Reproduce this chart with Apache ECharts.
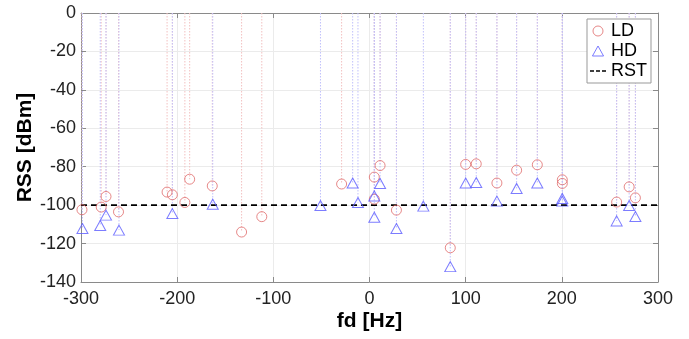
<!DOCTYPE html>
<html>
<head>
<meta charset="utf-8">
<script src="https://cdn.jsdelivr.net/npm/echarts@6/dist/echarts.min.js"></script>
<style>
  html, body { margin: 0; padding: 0; background: #fff; }
  #chart { width: 689px; height: 339px; }
</style>
</head>
<body>
<div id="chart"></div>
<script>
// LD (red circles) and HD (blue triangles), Doppler fd in Hz, RSS in dBm
const ldFd = [-299, -279, -274, -261, -210.5, -205, -192, -187, -163.5, -133, -112, -29, 5, 5, 11, 28, 84, 100, 111, 132.5, 153, 174.5, 200.5, 200.5, 257, 270, 276.5];
const ldRss = [-102.4, -101, -95.5, -103.5, -93.2, -94.6, -98.6, -86.5, -90, -114, -106, -89, -85.4, -96.9, -79.4, -102.6, -122.2, -78.8, -78.5, -88.5, -81.8, -79, -86.8, -88.7, -98.4, -90.5, -96.2];
const hdFd = [-298.5, -280, -274, -260.5, -205, -163, -51, -17.5, -12, 5, 5, 11, 28, 56, 84, 100, 111, 132.5, 153, 174.5, 200.5, 200.5, 257, 270, 276.5];
const hdRss = [-112.2, -110.6, -105.2, -113, -104.4, -99.5, -100.2, -88.5, -98.6, -95.2, -106.3, -88.7, -112.2, -100.5, -132, -88.5, -88.2, -97.9, -91.3, -88.5, -96.5, -97.9, -108.2, -100.2, -105.9];
const rstLevel = -100;
const xRange = [-300, 300];
const yRange = [-140, 0];

const ldColor = "#e06a6a";
const hdColor = "#5b5bff";
const font = "Liberation Sans, Arial, Helvetica, sans-serif";

const ldData = ldFd.map((x, i) => [x, ldRss[i]]);
const hdData = hdFd.map((x, i) => [x, hdRss[i]]);

// stem: dotted line from 0 dBm down to the marker
function stemSeries(data, color) {
  return {
    type: "custom",
    silent: true,
    data: data,
    encode: { x: 0, y: 1 },
    renderItem: function (params, api) {
      const top = api.coord([api.value(0), 0]);
      const end = api.coord([api.value(0), api.value(1)]);
      return {
        type: "line",
        shape: { x1: top[0], y1: top[1], x2: end[0], y2: end[1] },
        style: { stroke: color, lineWidth: 1, lineDash: [1.5, 1.5] },
      };
    },
    z: 1,
  };
}

const chart = echarts.init(document.getElementById("chart"));
const axisGray = "#8a8a8a";
const option = {
  animation: false,
  textStyle: { fontFamily: font },
  grid: { left: 81, right: 31, top: 13, bottom: 57 },
  legend: {
    orient: "vertical",
    right: 38,
    top: 19,
    padding: [3, 4, 3, 3],
    itemGap: 2,
    itemWidth: 16,
    itemHeight: 10,
    borderColor: "#999",
    borderWidth: 1,
    backgroundColor: "#fff",
    textStyle: { fontSize: 18, color: "#000", fontFamily: font },
    data: [
      { name: "LD", icon: "circle", itemStyle: { color: "transparent", borderColor: ldColor, borderWidth: 1 } },
      { name: "HD", icon: "path://M5,0 L10,9 L0,9 Z", itemStyle: { color: "transparent", borderColor: hdColor, borderWidth: 1 } },
      { name: "RST", icon: "path://M0,0 H4 V1.6 H0 Z M6,0 H10 V1.6 H6 Z M12,0 H16 V1.6 H12 Z", itemStyle: { color: "#000" } },
    ],
  },
  xAxis: [
    {
      type: "value",
      min: xRange[0],
      max: xRange[1],
      interval: 100,
      name: "fd [Hz]",
      nameLocation: "middle",
      nameGap: 29,
      nameMoveOverlap: false,
      nameTextStyle: { fontSize: 21, fontWeight: "bold", color: "#000", fontFamily: font },
      axisLine: { show: true, onZero: false, lineStyle: { color: axisGray } },
      axisTick: { show: true, inside: true, length: 5, lineStyle: { color: axisGray } },
      axisLabel: { fontSize: 18, color: "#222", margin: 8 },
      splitLine: { show: true, lineStyle: { color: "#ebebeb" } },
    },
    {
      type: "value",
      position: "top",
      min: xRange[0],
      max: xRange[1],
      interval: 100,
      axisLine: { show: true, onZero: false, lineStyle: { color: axisGray } },
      axisTick: { show: true, inside: true, length: 5, lineStyle: { color: axisGray } },
      axisLabel: { show: false },
      splitLine: { show: false },
    },
  ],
  yAxis: [
    {
      type: "value",
      min: yRange[0],
      max: yRange[1],
      interval: 20,
      name: "RSS [dBm]",
      nameLocation: "middle",
      nameGap: 45,
      nameMoveOverlap: false,
      nameTextStyle: { fontSize: 21, fontWeight: "bold", color: "#000", fontFamily: font },
      axisLine: { show: true, onZero: false, lineStyle: { color: axisGray } },
      axisTick: { show: true, inside: true, length: 5, lineStyle: { color: axisGray } },
      axisLabel: { fontSize: 18, color: "#222", margin: 5 },
      splitLine: { show: true, lineStyle: { color: "#ebebeb" } },
    },
    {
      type: "value",
      position: "right",
      min: yRange[0],
      max: yRange[1],
      interval: 20,
      axisLine: { show: true, onZero: false, lineStyle: { color: axisGray } },
      axisTick: { show: true, inside: true, length: 5, lineStyle: { color: axisGray } },
      axisLabel: { show: false },
      splitLine: { show: false },
    },
  ],
  series: [
    stemSeries(ldData, "#f2c0c0"),
    stemSeries(hdData, "#c0c0fb"),
    {
      name: "RST",
      type: "line",
      data: [[xRange[0], rstLevel], [xRange[1], rstLevel]],
      symbol: "none",
      lineStyle: { color: "#000", width: 1.6, type: [6, 4] },
      itemStyle: { color: "#000" },
      z: 3,
    },
    {
      name: "LD",
      type: "scatter",
      data: ldData,
      symbol: "circle",
      symbolSize: 10,
      itemStyle: { color: "transparent", borderColor: ldColor, borderWidth: 1 },
      z: 4,
    },
    {
      name: "HD",
      type: "scatter",
      data: hdData,
      symbol: "triangle",
      symbolSize: [11, 10],
      itemStyle: { color: "transparent", borderColor: hdColor, borderWidth: 1 },
      z: 5,
    },
  ],
};
chart.setOption(option);
</script>
</body>
</html>
